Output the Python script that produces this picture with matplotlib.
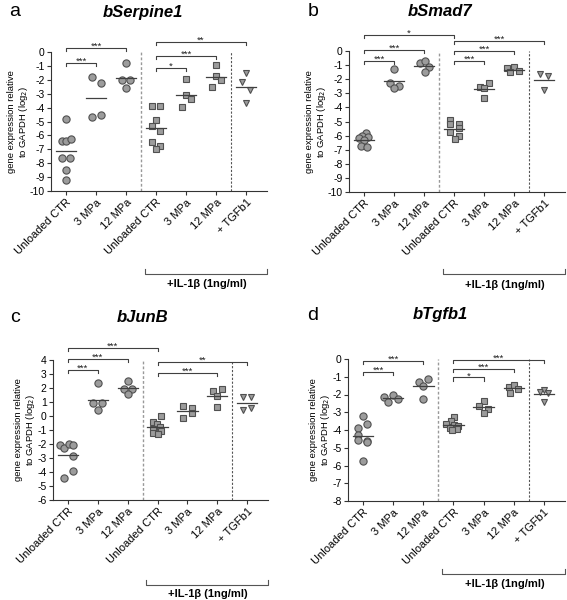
import numpy as np
import matplotlib
matplotlib.use("Agg")
import matplotlib.pyplot as plt
import matplotlib.transforms as mtransforms

plt.rcParams['font.family'] = ['Liberation Sans', 'DejaVu Sans']

categories = ["Unloaded CTR", "3 MPa", "12 MPa", "Unloaded CTR", "3 MPa", "12 MPa", "+ TGFb1"]
treatment_label = "+IL-1β (1ng/ml)"
ylabel_text = "gene expression relative\nto GAPDH (log$_2$)"

# ---- Panel a: bSerpine1 ----
a_title = "bSerpine1"
a_values = [
    [-4.8, -6.4, -6.4, -6.25, -7.6, -7.6, -8.5, -9.2],
    [-1.8, -2.25, -4.65, -4.55],
    [-0.8, -2.0, -2.0, -2.6],
    [-3.9, -3.9, -4.9, -5.35, -5.7, -6.5, -6.75, -7.0],
    [-1.95, -3.1, -3.4, -3.95],
    [-0.9, -1.75, -2.0, -2.55],
    [-1.5, -2.15, -2.75, -3.7],
]
a_dx = [
    [0, -0.15, 0, 0.15, -0.13, 0.13, 0, 0],
    [-0.15, 0.15, -0.15, 0.15],
    [0, -0.12, 0.12, 0],
    [-0.15, 0.13, 0, -0.15, 0.13, -0.15, 0.13, 0],
    [0, 0, 0.15, -0.13],
    [0, 0, 0.15, -0.13],
    [0, -0.13, 0.13, 0],
]
a_sig = [(0, 1, -0.8, "***"), (0, 2, 0.3, "***"), (3, 4, -1.15, "*"),
         (3, 5, -0.3, "***"), (3, 6, 0.7, "**")]
a_yticks = list(range(0, -11, -1))

# ---- Panel b: bSmad7 ----
b_title = "bSmad7"
b_values = [
    [-5.8, -6.0, -6.1, -6.2, -6.3, -6.75, -6.8],
    [-1.3, -2.25, -2.5, -2.6],
    [-0.85, -0.7, -1.15, -1.5],
    [-4.9, -5.15, -5.2, -5.45, -5.75, -6.05, -6.25],
    [-2.25, -2.55, -2.6, -3.3],
    [-1.2, -1.15, -1.5, -1.4],
    [-1.6, -1.75, -2.8],
]
b_dx = [
    [0.05, -0.08, 0.14, -0.18, 0.0, -0.1, 0.1],
    [0, -0.15, 0.15, 0],
    [-0.13, 0.02, 0.15, 0.02],
    [-0.12, -0.12, 0.17, 0.17, -0.12, 0.17, 0.03],
    [0.17, -0.14, 0, 0],
    [-0.22, 0, -0.13, 0.15],
    [-0.13, 0.13, 0],
]
b_sig = [(0, 1, -0.7, "***"), (0, 2, 0.05, "***"), (0, 3, 1.15, "*"),
         (3, 4, -0.7, "***"), (3, 5, 0.0, "***"), (3, 6, 0.73, "***")]
b_yticks = list(range(0, -11, -1))

# ---- Panel c: bJunB ----
c_title = "bJunB"
c_values = [
    [-2.05, -2.25, -2.0, -2.1, -2.85, -3.9, -4.4],
    [2.35, 0.95, 0.9, 0.4],
    [2.5, 1.9, 1.9, 1.6],
    [0.0, -0.45, -0.6, -0.75, -0.9, -1.05, -1.2, -1.3],
    [0.7, 0.55, 0.25, -0.15],
    [1.8, 1.9, 1.45, 0.65],
    [1.35, 1.35, 0.45, 0.55],
]
c_dx = [
    [-0.27, -0.12, 0.02, 0.17, 0.17, 0.17, -0.12],
    [0, -0.15, 0.15, 0],
    [0, -0.13, 0.15, 0],
    [0.13, -0.14, -0.03, 0.08, -0.14, 0.1, -0.14, 0.0],
    [-0.14, 0.15, 0.15, -0.14],
    [-0.14, 0.15, 0, 0],
    [-0.15, 0.13, -0.15, 0.13],
]
c_sig = [(0, 1, 3.3, "***"), (0, 2, 4.07, "***"), (0, 3, 4.88, "***"),
         (3, 5, 3.05, "***"), (3, 6, 3.88, "**")]
c_yticks = list(range(4, -7, -1))

# ---- Panel d: bTgfb1 ----
d_title = "bTgfb1"
d_values = [
    [-3.2, -3.65, -3.9, -4.3, -4.55, -4.6, -4.7, -5.75],
    [-2.15, -2.05, -2.45, -2.25],
    [-1.1, -1.3, -1.5, -2.25],
    [-3.25, -3.5, -3.65, -3.7, -3.8, -3.9, -3.95, -4.0],
    [-2.35, -2.65, -2.8, -3.05],
    [-1.55, -1.45, -1.7, -1.9],
    [-1.85, -1.75, -1.9, -2.45],
]
d_dx = [
    [0, 0.12, -0.17, -0.17, -0.17, 0.12, 0.12, 0],
    [-0.3, 0, -0.17, 0.15],
    [0.15, -0.13, 0, 0],
    [0.03, -0.08, -0.25, 0.02, 0.15, -0.13, 0.12, -0.05],
    [0, -0.14, 0.13, 0],
    [-0.15, 0, 0.15, -0.12],
    [-0.13, 0, 0.13, 0],
]
d_sig = [(0, 1, -0.75, "***"), (0, 2, -0.13, "***"), (3, 4, -1.04, "*"),
         (3, 5, -0.55, "***"), (3, 6, -0.04, "***")]
d_yticks = list(range(0, -9, -1))

FACE = '#9c9c9c'
EDGE = '#505050'
markers = ['o', 'o', 'o', 's', 's', 's', 'v']
msizes = [5.2, 5.2, 5.2, 4.8, 4.8, 4.8, 4.6]

W, H = 567, 600
fig = plt.figure(figsize=(W / 100, H / 100), dpi=100)


def px_axes(l, t, r, b):
    return fig.add_axes([l / W, 1 - b / H, (r - l) / W, (b - t) / H])


# (letter, title, values, dx, sig, yticks, axes box px, letter pos, title pos, bracket y px, label y px)
panels = [
    ("a", a_title, a_values, a_dx, a_sig, a_yticks, (51, 52, 267, 191), (15, 12), (143, 12), 274, 284),
    ("b", b_title, b_values, b_dx, b_sig, b_yticks, (349, 51, 565, 192), (313, 12), (440, 12), 274, 285),
    ("c", c_title, c_values, c_dx, c_sig, c_yticks, (53, 360, 268, 500), (15, 317), (143, 317), 585, 594),
    ("d", d_title, d_values, d_dx, d_sig, d_yticks, (348, 359, 565, 501), (313, 315), (440, 315), 574, 584),
]

for (letter, title, values, dxs, sigs, yticks, box, lpos, tpos, brk_y, lab_y) in panels:
    ax = px_axes(*box)
    ymax, ymin = max(yticks), min(yticks)
    span = ymax - ymin
    for i, (vals, dx) in enumerate(zip(values, dxs)):
        xs = np.array(dx) + i
        ax.plot(xs, vals, linestyle='none', marker=markers[i], ms=msizes[i],
                mfc=FACE, mec=EDGE, mew=0.8, clip_on=False, zorder=3)
        m = np.mean(vals)
        ax.plot([i - 0.34, i + 0.34], [m, m], color='#404040', lw=0.9, zorder=4)
    # dashed separators
    ax.plot([2.5, 2.5], [ymin, ymax], color='#999999', lw=1.0, ls=(0, (2, 1.5)),
            clip_on=False, zorder=1)
    ax.plot([5.5, 5.5], [ymin, ymax], color='#555555', lw=0.8, ls=(0, (2, 1.5)),
            clip_on=False, zorder=1)
    # significance brackets
    tick = 0.022 * span
    for i, j, y, lab in sigs:
        ax.plot([i, i, j, j], [y - tick, y, y, y - tick], color='#404040', lw=0.8,
                clip_on=False)
        ax.annotate(lab, xy=((i + j) / 2, y), xytext=(0, 1.2), textcoords='offset points',
                    ha='center', va='center', fontsize=6.8, color='#222222',
                    annotation_clip=False)
    ax.set_xlim(-0.5, 6.7)
    ax.set_ylim(ymin, ymax)
    ax.set_yticks(yticks)
    ax.set_yticklabels([str(t) for t in yticks], fontsize=7.5)
    ax.set_xticks(range(len(categories)))
    ax.set_xticklabels(categories, rotation=45, ha='right', rotation_mode='anchor',
                       fontsize=8)
    for s in ['top', 'right']:
        ax.spines[s].set_visible(False)
    for s in ['left', 'bottom']:
        ax.spines[s].set_color('#333333')
        ax.spines[s].set_linewidth(0.8)
    ax.tick_params(axis='both', length=3, width=0.8, color='#333333', pad=1.5)
    ax.set_ylabel(ylabel_text, fontsize=6.8, labelpad=0, linespacing=1.1)
    # IL-1beta bracket
    height_px = box[3] - box[1]
    fy_line = (box[3] - brk_y) / height_px
    fy_tick = (box[3] - (brk_y - 5)) / height_px
    fy_lab = (box[3] - lab_y) / height_px
    trans = mtransforms.blended_transform_factory(ax.transData, ax.transAxes)
    ax.plot([2.63, 2.63, 6.7, 6.7], [fy_tick, fy_line, fy_line, fy_tick], color='#555555',
            lw=0.8, transform=trans, clip_on=False)
    ax.text(4.7, fy_lab, treatment_label, transform=trans, ha='center', va='center',
            fontsize=8, fontweight='bold')
    # panel letter and title
    fig.text(lpos[0] / W, 1 - lpos[1] / H, letter, fontsize=14, ha='center', va='center')
    fig.text(tpos[0] / W, 1 - tpos[1] / H, title, fontsize=12, fontweight='bold',
             fontstyle='italic', ha='center', va='center')

fig.savefig("out.png", dpi=100)
